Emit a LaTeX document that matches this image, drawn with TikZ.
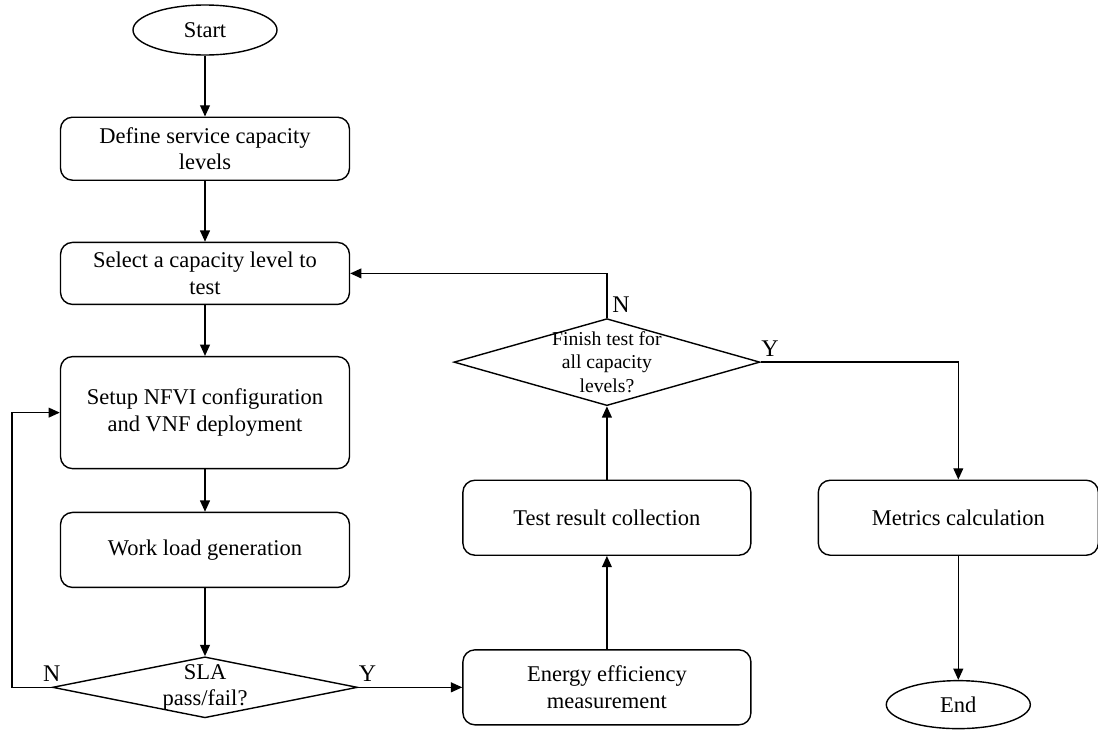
\documentclass[tikz,border=0pt]{standalone}
\usepackage{fontspec}
\setmainfont{Liberation Serif}
\usepackage{tikz}
\usetikzlibrary{shapes.geometric, arrows.meta, positioning}
\tikzset{
    box/.style = {rectangle, draw, line width=1pt, inner sep=3pt, align=center, rounded corners=0.3cm, minimum width=7.225cm, minimum height=1.575cm, font=\fontsize{16}{19}\selectfont},
    terminal/.style = {ellipse, draw, line width=1pt, minimum width=3.6cm, minimum height=1.25cm, font=\fontsize{16}{19}\selectfont},
    decision/.style = {diamond, draw, line width=1pt, align=center, inner sep=-4pt, font=\fontsize{16}{19}\selectfont},
    arrow/.style = {line width=1pt, -{Triangle[length=8pt, width=7pt]}},
    yesno/.style = {font=\fontsize{17}{20}\selectfont}
}

\begin{document}
\begin{tikzpicture}[node distance=1.52cm and 2.6cm]
\useasboundingbox (0,0) rectangle (27.45,-18.35);
% Nodes
\node (start) [terminal] at (5.125,-0.75) {Start};

\node (define) [box, below=of start] {Define service capacity\\levels};

\node (select) [box, below=1.52cm of define, minimum height=1.55cm] {Select a capacity level to\\test};

\node (setup) [box, below=1.27cm of select, minimum height=2.8cm] {Setup NFVI configuration\\and VNF deployment};

\node (work) [box, below=1.06cm of setup, minimum height=1.875cm] {Work load generation};

\node (sla) [decision, below=1.7cm of work, minimum width=7.625cm, minimum height=1.525cm, aspect=5] {SLA\\pass/fail?};

\node (energy) [box, right=of sla, minimum width=7.2cm, minimum height=1.875cm] {Energy efficiency\\measurement};

\node (test) [box, above=2.33cm of energy, minimum width=7.2cm, minimum height=1.875cm] {Test result collection};

\node (finish) [decision, above=1.83cm of test, minimum width=7.65cm, minimum height=2.175cm, aspect=3.5, font=\fontsize{14}{16.5}\selectfont] {Finish test for\\all capacity\\levels?};

\node (metrics) [box, right=1.65cm of test, minimum width=7cm, minimum height=1.875cm] {Metrics calculation};

\node (stop) [terminal, below=3.1cm of metrics, minimum width=3.6cm, minimum height=1.2cm] {End};

% Arrows
\draw [arrow] (start) -- (define);
\draw [arrow] (define) -- (select);
\draw [arrow] (select) -- (setup);
\draw [arrow] (setup) -- (work);
\draw [arrow] (work) -- (sla);
\draw [arrow] (sla.west) -- node[yesno, pos=0, above] {N} ++(-1cm,0) |- (setup.west);
\draw [arrow] (sla) -- node[yesno, pos=0, above right, inner xsep=0pt] {Y} (energy);
\draw [arrow] (energy) -- (test);
\draw [arrow] (test) -- (finish);
\draw [arrow] (finish.north) |- node[yesno, pos=0, above right] {N} (select.east);
\draw [arrow] (finish.east) -| node[yesno, pos=0, above right, inner xsep=0pt] {Y} (metrics.north);
\draw [arrow] (metrics) -- (stop);

\end{tikzpicture}
\end{document}
